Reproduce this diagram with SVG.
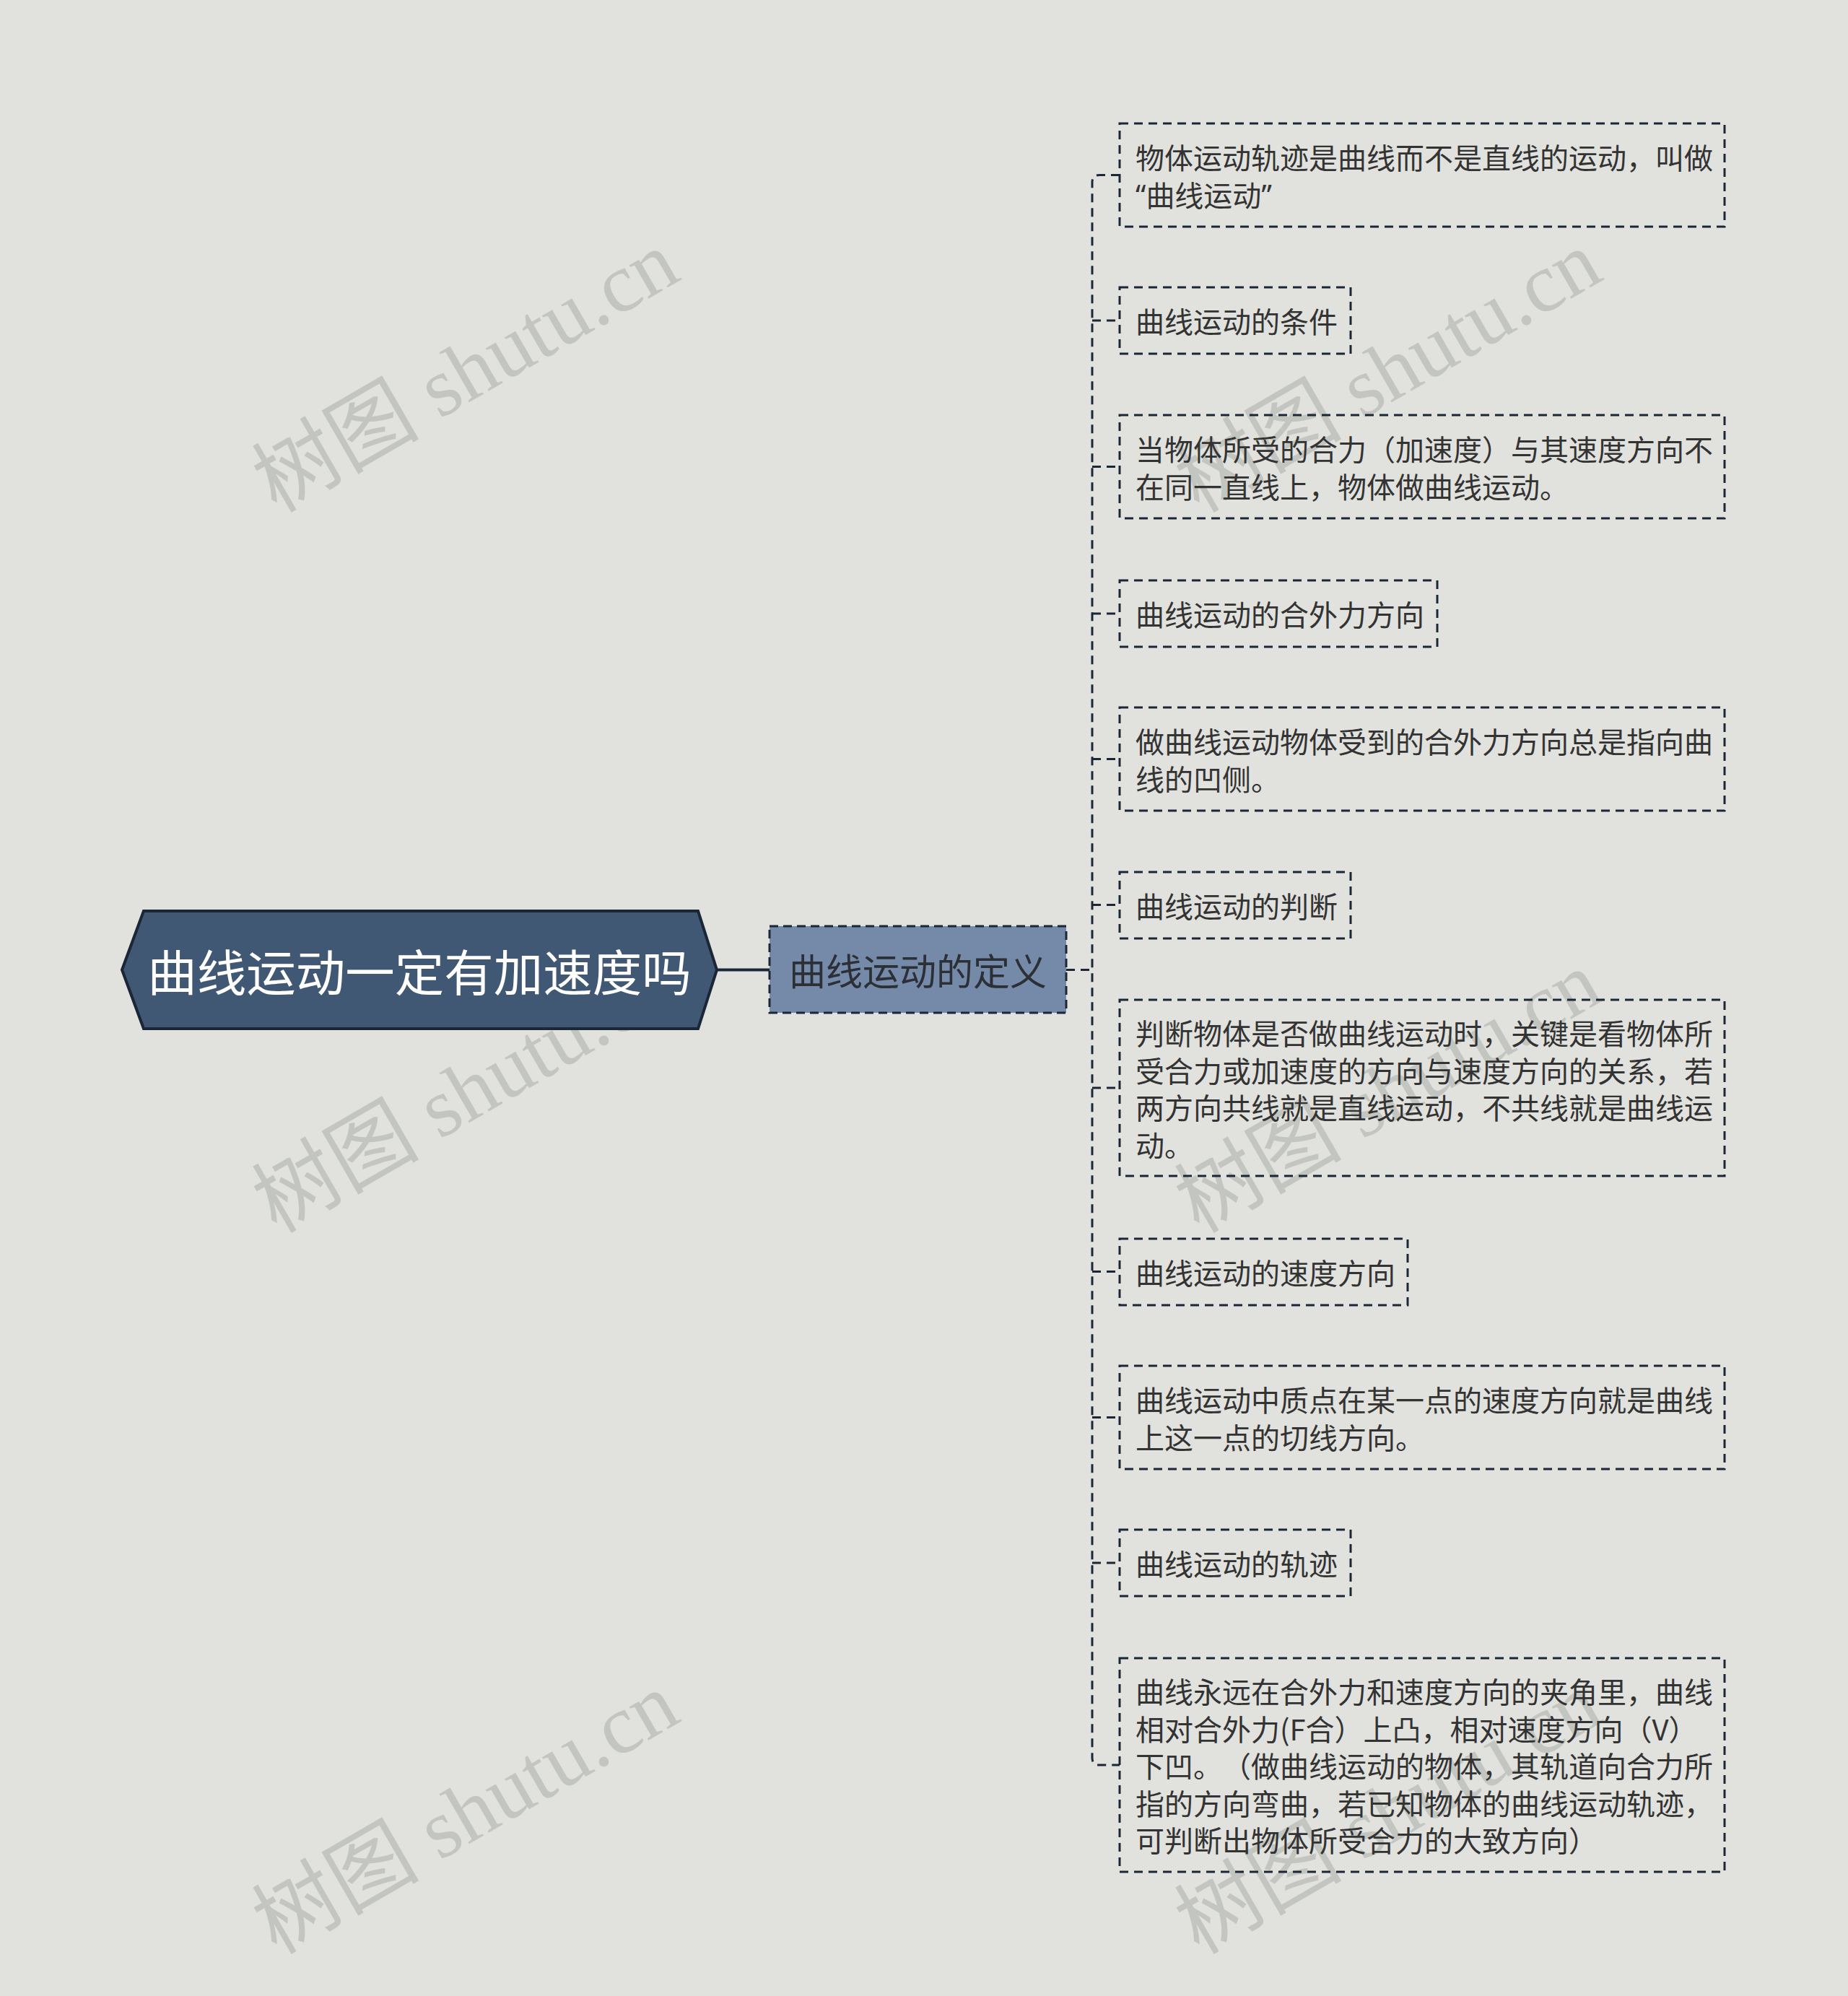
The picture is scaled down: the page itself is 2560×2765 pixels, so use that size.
<svg xmlns="http://www.w3.org/2000/svg" width="2560" height="2765" viewBox="0 0 2560 2765">
<style>
text{text-spacing-trim:space-all}
.bg{fill:#e1e2de}
.wm{font-family:"Liberation Serif","Noto Sans CJK SC",serif;font-size:116px;fill:#c3c5c0}
.root{fill:#415874;stroke:#1b2636;stroke-width:4}
.roott{font-family:"Noto Sans CJK SC","Noto Sans",sans-serif;font-size:68.5px;fill:#ffffff;text-anchor:middle;dominant-baseline:central}
.mid{fill:#7589a8;stroke:#1b2636;stroke-width:3;stroke-dasharray:12 7}
.midt{font-family:"Noto Sans CJK SC","Noto Sans",sans-serif;font-size:51px;fill:#2b2f36;text-anchor:middle;dominant-baseline:central}
.leaf{fill:none;stroke:#1b2636;stroke-width:3;stroke-dasharray:12 8}
.lt{font-family:"Noto Sans CJK SC","Noto Sans",sans-serif;font-size:40px;fill:#333333;dominant-baseline:central}
.q{font-family:"Noto Sans",sans-serif}
.c{fill:none;stroke:#1b2636;stroke-width:3;stroke-dasharray:12 8}
.cs{fill:none;stroke:#1b2636;stroke-width:4}
</style>
<rect class="bg" x="0" y="0" width="2560" height="2765"/>
<g id="watermarks">
<text class="wm" transform="translate(645 515) rotate(-30)" text-anchor="middle" dominant-baseline="central">树图 shutu.cn</text>
<text class="wm" transform="translate(645 1513) rotate(-30)" text-anchor="middle" dominant-baseline="central">树图 shutu.cn</text>
<text class="wm" transform="translate(645 2512) rotate(-30)" text-anchor="middle" dominant-baseline="central">树图 shutu.cn</text>
<text class="wm" transform="translate(1923 515) rotate(-30)" text-anchor="middle" dominant-baseline="central">树图 shutu.cn</text>
<text class="wm" transform="translate(1923 1513) rotate(-30)" text-anchor="middle" dominant-baseline="central">树图 shutu.cn</text>
<text class="wm" transform="translate(1923 2512) rotate(-30)" text-anchor="middle" dominant-baseline="central">树图 shutu.cn</text>
</g>
<g id="connectors">
<path class="cs" d="M993 1343.5 H1066"/>
<path class="c" d="M1477 1343.5 H1513"/>
<path class="c" d="M1551 242.5 H1523 Q1513 242.5 1513 252.5 V2435 Q1513 2445 1523 2445 H1551"/>
<path class="c" d="M1513 444 H1551"/>
<path class="c" d="M1513 646.5 H1551"/>
<path class="c" d="M1513 850 H1551"/>
<path class="c" d="M1513 1051.5 H1551"/>
<path class="c" d="M1513 1253.5 H1551"/>
<path class="c" d="M1513 1507 H1551"/>
<path class="c" d="M1513 1761.5 H1551"/>
<path class="c" d="M1513 1963.5 H1551"/>
<path class="c" d="M1513 2165 H1551"/>
</g>
<g id="root">
<polygon class="root" points="169,1343.5 199,1262 967,1262 993,1343.5 967,1425 199,1425"/>
<text class="roott" x="581" y="1343.5">曲线运动一定有加速度吗</text>
</g>
<g id="mid">
<rect class="mid" x="1066" y="1283" width="411" height="120"/>
<text class="midt" x="1271.5" y="1343">曲线运动的定义</text>
</g>
<g id="leaf1">
<rect class="leaf" x="1551" y="171" width="838" height="143"/>
<text class="lt" x="1573" y="217">物体运动轨迹是曲线而不是直线的运动，叫做</text>
<text class="lt" x="1573" y="268.5"><tspan class="q">“</tspan>曲线运动<tspan class="q">”</tspan></text>
</g>
<g id="leaf2">
<rect class="leaf" x="1551" y="398" width="320" height="92"/>
<text class="lt" x="1573" y="444">曲线运动的条件</text>
</g>
<g id="leaf3">
<rect class="leaf" x="1551" y="575" width="838" height="143"/>
<text class="lt" x="1573" y="621">当物体所受的合力（加速度）与其速度方向不</text>
<text class="lt" x="1573" y="672.5">在同一直线上，物体做曲线运动。</text>
</g>
<g id="leaf4">
<rect class="leaf" x="1551" y="804" width="440" height="92"/>
<text class="lt" x="1573" y="850">曲线运动的合外力方向</text>
</g>
<g id="leaf5">
<rect class="leaf" x="1551" y="980" width="838" height="143"/>
<text class="lt" x="1573" y="1026">做曲线运动物体受到的合外力方向总是指向曲</text>
<text class="lt" x="1573" y="1077.5">线的凹侧。</text>
</g>
<g id="leaf6">
<rect class="leaf" x="1551" y="1208" width="320" height="92"/>
<text class="lt" x="1573" y="1254">曲线运动的判断</text>
</g>
<g id="leaf7">
<rect class="leaf" x="1551" y="1385" width="838" height="244"/>
<text class="lt" x="1573" y="1430">判断物体是否做曲线运动时，关键是看物体所</text>
<text class="lt" x="1573" y="1481.5">受合力或加速度的方向与速度方向的关系，若</text>
<text class="lt" x="1573" y="1533">两方向共线就是直线运动，不共线就是曲线运</text>
<text class="lt" x="1573" y="1584.5">动。</text>
</g>
<g id="leaf8">
<rect class="leaf" x="1551" y="1716" width="399" height="92"/>
<text class="lt" x="1573" y="1762">曲线运动的速度方向</text>
</g>
<g id="leaf9">
<rect class="leaf" x="1551" y="1892" width="838" height="143"/>
<text class="lt" x="1573" y="1938">曲线运动中质点在某一点的速度方向就是曲线</text>
<text class="lt" x="1573" y="1989.5">上这一点的切线方向。</text>
</g>
<g id="leaf10">
<rect class="leaf" x="1551" y="2119" width="320" height="92"/>
<text class="lt" x="1573" y="2165">曲线运动的轨迹</text>
</g>
<g id="leaf11">
<rect class="leaf" x="1551" y="2297" width="838" height="296"/>
<text class="lt" x="1573" y="2342">曲线永远在合外力和速度方向的夹角里，曲线</text>
<text class="lt" x="1573" y="2393.5">相对合外力(F合）上凸，相对速度方向（V）</text>
<text class="lt" x="1573" y="2445">下凹。（做曲线运动的物体，其轨道向合力所</text>
<text class="lt" x="1573" y="2496.5">指的方向弯曲，若已知物体的曲线运动轨迹，</text>
<text class="lt" x="1573" y="2548">可判断出物体所受合力的大致方向）</text>
</g>
</svg>
